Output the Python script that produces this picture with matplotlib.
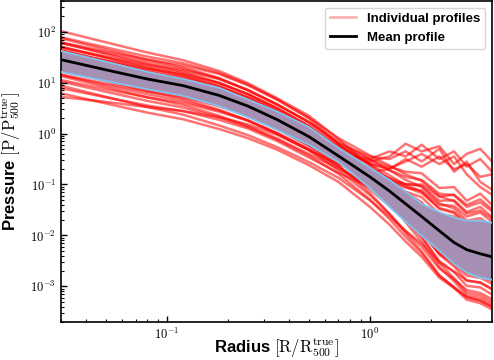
import numpy as np
import matplotlib.pyplot as plt
from matplotlib.lines import Line2D
from matplotlib.ticker import FixedLocator, FuncFormatter, NullFormatter

plt.rcParams['mathtext.fontset'] = 'cm'
plt.rcParams['font.family'] = ['Liberation Sans', 'DejaVu Sans']

# radius grid in units of R500 (true)
radius = [0.03, 0.05, 0.08, 0.12, 0.18, 0.25, 0.35, 0.5, 0.7, 1.0,
          1.25, 1.5, 1.8, 2.2, 2.6, 3.0, 3.5, 4.0]

# log10 of P / P500
log_p_mean = [1.45, 1.25, 1.07, 0.94, 0.75, 0.54, 0.27, -0.06, -0.44, -0.85,
              -1.13, -1.38, -1.63, -1.91, -2.14, -2.28, -2.36, -2.42]
log_p_upper = [1.62, 1.41, 1.21, 1.07, 0.90, 0.67, 0.43, 0.13, -0.28, -0.67,
               -0.91, -1.14, -1.38, -1.54, -1.65, -1.71, -1.71, -1.75]
log_p_lower = [1.21, 1.03, 0.87, 0.74, 0.54, 0.32, 0.07, -0.22, -0.56, -1.07,
               -1.44, -1.73, -2.01, -2.30, -2.56, -2.73, -2.83, -2.87]

# individual profiles (a sample of the red lines)
log_p_profiles = [
    [2.01, 1.79, 1.59, 1.44, 1.23, 0.99, 0.69, 0.35, -0.11, -0.63, -1.02, -1.38, -1.71, -2.16, -2.42, -2.69, -2.73, -2.85],
    [1.89, 1.69, 1.51, 1.38, 1.19, 0.96, 0.67, 0.31, -0.09, -0.43, -0.63, -0.80, -0.93, -1.23, -1.33, -1.57, -1.51, -1.67],
    [1.79, 1.61, 1.45, 1.34, 1.17, 0.95, 0.66, 0.30, -0.20, -0.78, -1.23, -1.65, -2.03, -2.54, -2.84, -3.12, -3.18, -3.30],
    [1.87, 1.65, 1.45, 1.30, 1.09, 0.85, 0.56, 0.23, -0.16, -0.50, -0.72, -0.91, -1.05, -1.37, -1.47, -1.71, -1.66, -1.82],
    [1.78, 1.58, 1.40, 1.27, 1.08, 0.85, 0.57, 0.22, -0.20, -0.61, -0.90, -1.15, -1.35, -1.73, -1.88, -2.14, -2.11, -2.27],
    [1.69, 1.51, 1.35, 1.24, 1.07, 0.86, 0.57, 0.22, -0.20, -0.45, -0.50, -0.35, -0.55, -0.30, -0.75, -0.55, -0.95, -1.10],
    [1.78, 1.56, 1.36, 1.21, 1.00, 0.77, 0.48, 0.15, -0.28, -0.81, -1.21, -1.57, -1.90, -2.38, -2.61, -2.89, -2.92, -3.06],
    [1.69, 1.49, 1.31, 1.18, 0.99, 0.77, 0.49, 0.14, -0.24, -0.60, -0.82, -1.01, -1.14, -1.48, -1.56, -1.82, -1.75, -1.93],
    [1.61, 1.43, 1.27, 1.16, 0.99, 0.78, 0.50, 0.15, -0.33, -0.90, -1.34, -1.74, -2.12, -2.62, -2.90, -3.17, -3.23, -3.35],
    [1.71, 1.49, 1.29, 1.14, 0.93, 0.70, 0.42, 0.09, -0.25, -0.51, -0.65, -0.75, -0.78, -1.07, -1.05, -1.32, -1.18, -1.40],
    [1.63, 1.43, 1.25, 1.12, 0.93, 0.71, 0.43, 0.09, -0.31, -0.72, -1.01, -1.26, -1.47, -1.83, -1.99, -2.23, -2.22, -2.36],
    [1.54, 1.36, 1.20, 1.09, 0.92, 0.71, 0.44, 0.09, -0.29, -0.57, -0.72, -0.85, -0.91, -1.18, -1.21, -1.44, -1.35, -1.53],
    [1.64, 1.42, 1.22, 1.07, 0.86, 0.63, 0.36, 0.03, -0.36, -0.83, -1.17, -1.48, -1.76, -2.15, -2.37, -2.60, -2.63, -2.75],
    [1.55, 1.35, 1.17, 1.04, 0.85, 0.64, 0.36, 0.03, -0.33, -0.60, -0.68, -0.55, -0.40, -0.60, -0.45, -0.80, -1.05, -1.20],
    [1.47, 1.29, 1.13, 1.02, 0.85, 0.65, 0.37, 0.03, -0.35, -0.68, -0.88, -1.05, -1.17, -1.46, -1.54, -1.76, -1.71, -1.87],
    [1.57, 1.35, 1.15, 1.00, 0.79, 0.57, 0.29, -0.03, -0.43, -0.95, -1.35, -1.71, -2.03, -2.50, -2.72, -2.99, -3.02, -3.16],
    [1.49, 1.29, 1.11, 0.98, 0.79, 0.58, 0.31, -0.03, -0.38, -0.55, -0.45, -0.20, -0.35, -0.25, -0.60, -0.40, -0.30, -0.55],
    [1.41, 1.23, 1.07, 0.96, 0.79, 0.59, 0.32, -0.02, -0.41, -0.78, -1.02, -1.22, -1.38, -1.72, -1.82, -2.05, -2.01, -2.17],
    [1.51, 1.29, 1.09, 0.94, 0.73, 0.51, 0.24, -0.08, -0.40, -0.50, -0.35, -0.45, -0.22, -0.50, -0.35, -0.65, -0.50, -0.75],
    [1.42, 1.22, 1.04, 0.91, 0.72, 0.51, 0.24, -0.09, -0.44, -0.77, -0.97, -1.14, -1.25, -1.58, -1.63, -1.87, -1.80, -1.98],
    [1.33, 1.15, 0.99, 0.88, 0.71, 0.51, 0.25, -0.09, -0.51, -0.99, -1.34, -1.65, -1.94, -2.35, -2.57, -2.79, -2.83, -2.95],
    [1.42, 1.20, 1.00, 0.85, 0.64, 0.42, 0.16, -0.16, -0.46, -0.73, -0.88, -0.99, -1.03, -1.32, -1.31, -1.54, -1.44, -1.64],
    [1.33, 1.13, 0.95, 0.82, 0.63, 0.43, 0.16, -0.16, -0.53, -0.94, -1.23, -1.48, -1.69, -2.05, -2.20, -2.42, -2.42, -2.56],
    [1.25, 1.07, 0.91, 0.80, 0.63, 0.44, 0.17, -0.16, -0.50, -0.78, -0.94, -1.06, -1.12, -1.40, -1.42, -1.63, -1.55, -1.73],
    [1.34, 1.12, 0.92, 0.77, 0.56, 0.35, 0.09, -0.22, -0.52, -0.75, -0.70, -0.50, -0.65, -0.45, -0.70, -0.60, -0.85, -0.80],
    [1.25, 1.05, 0.87, 0.74, 0.55, 0.35, 0.09, -0.23, -0.63, -1.17, -1.58, -1.96, -2.31, -2.78, -3.03, -3.26, -3.33, -3.45],
    [1.16, 0.98, 0.82, 0.71, 0.54, 0.35, 0.09, -0.24, -0.58, -0.91, -1.11, -1.27, -1.39, -1.69, -1.75, -1.95, -1.91, -2.07],
    [1.25, 1.03, 0.83, 0.68, 0.47, 0.26, 0.01, -0.30, -0.64, -1.10, -1.42, -1.71, -1.97, -2.35, -2.54, -2.74, -2.78, -2.90],
    [1.15, 0.95, 0.77, 0.64, 0.45, 0.26, 0.00, -0.32, -0.60, -0.83, -0.93, -1.00, -1.00, -1.24, -1.20, -1.40, -1.29, -1.49],
    [1.05, 0.87, 0.71, 0.60, 0.43, 0.25, -0.01, -0.33, -0.72, -1.21, -1.58, -1.92, -2.22, -2.65, -2.86, -3.07, -3.13, -3.25],
    [1.13, 0.91, 0.71, 0.56, 0.35, 0.15, -0.10, -0.40, -0.69, -1.03, -1.23, -1.41, -1.54, -1.83, -1.91, -2.08, -2.07, -2.21],
    [1.02, 0.82, 0.64, 0.51, 0.32, 0.13, -0.12, -0.43, -0.79, -1.30, -1.68, -2.03, -2.35, -2.79, -3.01, -3.21, -3.28, -3.40],
    [0.89, 0.71, 0.55, 0.44, 0.27, 0.10, -0.15, -0.47, -0.77, -1.06, -1.22, -1.36, -1.44, -1.70, -1.74, -1.90, -1.86, -2.02],
    [0.94, 0.72, 0.52, 0.37, 0.16, -0.03, -0.27, -0.56, -0.87, -1.31, -1.63, -1.91, -2.16, -2.53, -2.71, -2.88, -2.93, -3.05],
    [0.79, 0.59, 0.41, 0.28, 0.09, -0.09, -0.32, -0.62, -0.95, -1.44, -1.79, -2.12, -2.42, -2.83, -3.03, -3.21, -3.28, -3.40],
    [0.72, 0.62, 0.52, 0.44, 0.32, 0.18, -0.03, -0.32, -0.66, -1.05, -1.30, -1.52, -1.70, -2.00, -2.15, -2.35, -2.32, -2.45],
]

x_major = [0.1, 1.0]
x_minor = [0.03, 0.04, 0.05, 0.06, 0.07, 0.08, 0.09, 0.2, 0.3, 0.4, 0.5, 0.6, 0.7, 0.8, 0.9, 2.0, 3.0, 4.0]
y_major = [1e-3, 1e-2, 1e-1, 1e0, 1e1, 1e2]

fig = plt.figure(figsize=(4.94, 3.6), dpi=100)
ax = fig.add_axes([0.1235, 0.1056, 0.8725, 0.8917])

for prof in log_p_profiles:
    ax.plot(radius, 10 ** np.array(prof), color='red', alpha=0.55, lw=1.8, zorder=1)

p_upper = 10 ** np.array(log_p_upper)
p_lower = 10 ** np.array(log_p_lower)
ax.fill_between(radius, p_lower, p_upper, color='#a590b4', lw=0, zorder=2)
ax.plot(radius, p_upper, color='#7fc4f0', lw=1.3, zorder=3)
ax.plot(radius, p_lower, color='#7fc4f0', lw=1.3, zorder=3)
ax.plot(radius, 10 ** np.array(log_p_mean), color='black', lw=2, zorder=4)

ax.set_xscale('log')
ax.set_yscale('log')
ax.set_xlim(0.03, 4.0)
ax.set_ylim(2e-4, 4e2)

fmt = FuncFormatter(lambda v, pos: r'$\mathbf{10^{%d}}$' % round(np.log10(v)))
ax.xaxis.set_major_locator(FixedLocator(x_major))
ax.xaxis.set_minor_locator(FixedLocator(x_minor))
ax.yaxis.set_major_locator(FixedLocator(y_major))
y_minor = [k * d for d in [1e-4, 1e-3, 1e-2, 1e-1, 1e0, 1e1, 1e2] for k in range(2, 10)]
ax.yaxis.set_minor_locator(FixedLocator([v for v in y_minor if 2e-4 <= v <= 4e2]))
ax.xaxis.set_major_formatter(fmt)
ax.yaxis.set_major_formatter(fmt)
ax.xaxis.set_minor_formatter(NullFormatter())
ax.yaxis.set_minor_formatter(NullFormatter())
ax.tick_params(which='both', direction='in', top=False, right=False, labelsize=9)
ax.tick_params(which='major', length=4, width=1)
ax.tick_params(which='minor', length=2.5, width=0.8)
for s in ax.spines.values():
    s.set_linewidth(1.2)

ax.set_xlabel(r'Radius $[\mathrm{R/R_{500}^{true}}]$', fontsize=12, fontweight='bold')
ax.set_ylabel(r'Pressure $[\mathrm{P/P_{500}^{true}}]$', fontsize=12, fontweight='bold')
ax.xaxis.set_label_coords(0.5, -0.045)
ax.yaxis.set_label_coords(-0.088, 0.5)

handles = [Line2D([], [], color='red', alpha=0.3, lw=2),
           Line2D([], [], color='black', lw=2)]
ax.legend(handles, ['Individual profiles', 'Mean profile'], loc='upper right',
          prop={'weight': 'bold', 'size': 9.5}, framealpha=0.8)

plt.savefig('out.png', dpi=100)
